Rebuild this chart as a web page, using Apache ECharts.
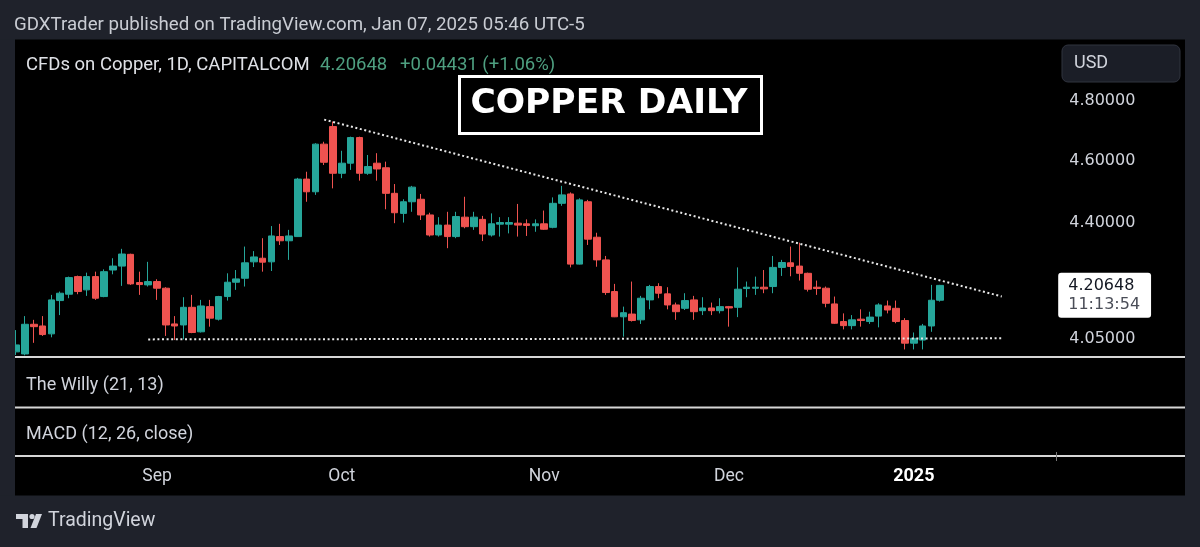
<!DOCTYPE html>
<html>
<head>
<meta charset="utf-8">
<script src="https://cdn.jsdelivr.net/npm/echarts@6/dist/echarts.min.js"></script>
<style>
html,body{margin:0;padding:0;background:#1f222b;}
#c{width:1200px;height:547px;}
</style>
</head>
<body>
<div id="c"></div>
<script>
// ---- trading days (categories) ----
const dates = [
'2024-08-09',
'2024-08-12','2024-08-13','2024-08-14','2024-08-15','2024-08-16',
'2024-08-19','2024-08-20','2024-08-21','2024-08-22','2024-08-23',
'2024-08-26','2024-08-27','2024-08-28','2024-08-29','2024-08-30',
'2024-09-02','2024-09-03','2024-09-04','2024-09-05','2024-09-06',
'2024-09-09','2024-09-10','2024-09-11','2024-09-12','2024-09-13',
'2024-09-16','2024-09-17','2024-09-18','2024-09-19','2024-09-20',
'2024-09-23','2024-09-24','2024-09-25','2024-09-26','2024-09-27',
'2024-09-30',
'2024-10-01','2024-10-02','2024-10-03','2024-10-04',
'2024-10-07','2024-10-08','2024-10-09','2024-10-10','2024-10-11',
'2024-10-14','2024-10-15','2024-10-16','2024-10-17','2024-10-18',
'2024-10-21','2024-10-22','2024-10-23','2024-10-24','2024-10-25',
'2024-10-28','2024-10-29','2024-10-30','2024-10-31',
'2024-11-01',
'2024-11-04','2024-11-05','2024-11-06','2024-11-07','2024-11-08',
'2024-11-11','2024-11-12','2024-11-13','2024-11-14','2024-11-15',
'2024-11-18','2024-11-19','2024-11-20','2024-11-21','2024-11-22',
'2024-11-25','2024-11-26','2024-11-27','2024-11-28','2024-11-29',
'2024-12-02','2024-12-03','2024-12-04','2024-12-05','2024-12-06',
'2024-12-09','2024-12-10','2024-12-11','2024-12-12','2024-12-13',
'2024-12-16','2024-12-17','2024-12-18','2024-12-19','2024-12-20',
'2024-12-23','2024-12-24','2024-12-26','2024-12-27',
'2024-12-30','2024-12-31',
'2025-01-02','2025-01-03','2025-01-06','2025-01-07'
];
// empty right margin of the chart (future sessions)
const futureDates = [
'2025-01-08','2025-01-09','2025-01-10','2025-01-13','2025-01-14','2025-01-15',
'2025-01-16','2025-01-17','2025-01-20','2025-01-21','2025-01-22','2025-01-23'
];

// ---- OHLC values (USD) ----
const opens = [
4.011,4.005,4.091,4.086,4.063,4.161,4.180,4.233,4.193,4.233,
4.173,4.253,4.265,4.301,4.215,4.208,4.218,4.198,4.092,4.089,
4.141,4.069,4.143,4.106,4.173,4.216,4.228,4.278,4.289,4.278,
4.356,4.343,4.356,4.539,4.498,4.654,4.713,4.558,4.591,4.676,
4.558,4.591,4.576,4.493,4.429,4.466,4.474,4.424,4.361,4.392,
4.356,4.417,4.387,4.410,4.361,4.395,4.395,4.398,4.396,4.390,
4.396,4.385,4.461,4.491,4.271,4.466,4.354,4.284,4.188,4.113,
4.121,4.104,4.163,4.203,4.181,4.148,4.138,4.163,4.131,4.139,
4.131,4.143,4.141,4.197,4.198,4.201,4.203,4.261,4.275,4.265,
4.243,4.201,4.198,4.151,4.099,4.087,4.106,4.099,4.115,4.145,
4.138,4.102,4.036,4.045,4.086,4.162
];
const closes = [
4.031,4.091,4.084,4.061,4.163,4.183,4.230,4.188,4.233,4.168,
4.248,4.265,4.302,4.211,4.209,4.218,4.198,4.089,4.086,4.141,
4.067,4.145,4.109,4.173,4.216,4.226,4.275,4.293,4.277,4.358,
4.343,4.358,4.539,4.498,4.654,4.594,4.558,4.591,4.676,4.558,
4.580,4.572,4.493,4.431,4.466,4.513,4.424,4.361,4.392,4.356,
4.419,4.387,4.417,4.364,4.396,4.400,4.400,4.392,4.391,4.396,
4.379,4.461,4.488,4.271,4.472,4.348,4.284,4.185,4.113,4.125,
4.102,4.168,4.203,4.183,4.148,4.128,4.161,4.128,4.139,4.131,
4.143,4.139,4.195,4.201,4.201,4.196,4.261,4.276,4.264,4.243,
4.195,4.197,4.153,4.094,4.087,4.104,4.102,4.112,4.148,4.133,
4.099,4.036,4.050,4.086,4.162,4.20648
];
const lows = [
4.002,4.001,4.037,4.057,4.053,4.118,4.168,4.180,4.175,4.163,
4.171,4.240,4.205,4.208,4.178,4.203,4.163,4.057,4.045,4.047,
4.065,4.067,4.084,4.102,4.161,4.193,4.203,4.262,4.248,4.250,
4.330,4.284,4.355,4.466,4.488,4.585,4.509,4.542,4.569,4.534,
4.553,4.534,4.442,4.398,4.400,4.434,4.408,4.356,4.356,4.320,
4.351,4.382,4.377,4.342,4.356,4.356,4.366,4.356,4.358,4.371,
4.377,4.382,4.453,4.261,4.270,4.330,4.263,4.178,4.112,4.055,
4.099,4.092,4.135,4.168,4.135,4.104,4.133,4.104,4.118,4.118,
4.123,4.084,4.112,4.171,4.178,4.183,4.183,4.235,4.234,4.221,
4.188,4.178,4.141,4.092,4.076,4.076,4.084,4.092,4.082,4.123,
4.094,4.018,4.018,4.018,4.069,4.158
];
const highs = [
4.074,4.115,4.104,4.115,4.178,4.188,4.233,4.236,4.245,4.248,
4.255,4.289,4.318,4.303,4.248,4.278,4.225,4.201,4.115,4.171,
4.178,4.163,4.163,4.175,4.243,4.253,4.325,4.311,4.351,4.389,
4.396,4.377,4.543,4.563,4.657,4.662,4.730,4.632,4.679,4.679,
4.618,4.624,4.596,4.523,4.474,4.517,4.491,4.431,4.417,4.434,
4.434,4.482,4.434,4.421,4.429,4.417,4.417,4.459,4.410,4.410,
4.438,4.480,4.517,4.496,4.477,4.472,4.368,4.296,4.211,4.143,
4.218,4.175,4.208,4.213,4.201,4.155,4.183,4.175,4.171,4.155,
4.168,4.145,4.261,4.218,4.233,4.253,4.296,4.284,4.325,4.337,
4.245,4.221,4.203,4.173,4.123,4.118,4.135,4.128,4.153,4.161,
4.161,4.109,4.067,4.092,4.208,4.208
];

// ---- axis labels / annotations ----
const priceTicks = [4.8, 4.6, 4.4, 4.05];
const lastPrice = 4.20648;
const countdown = '11:13:54';
const monthStarts = ['2024-09-02','2024-10-01','2024-11-01','2024-12-02','2025-01-02'];
const monthNames = ['Sep','Oct','Nov','Dec','2025'];
// trend lines: [date, price] endpoints
const resistance = [['2024-09-27', 4.7365], ['2025-01-16', 4.1732]];
const support = [['2024-08-30', 4.047], ['2025-01-16', 4.050]];

const UP = '#26a69a', DOWN = '#ef5350', TXT = '#d1d4dc';
const categories = dates.concat(futureDates);
const ohlc = opens.map((o, i) => [o, closes[i], lows[i], highs[i]]);

const dotted = {color: '#e8e8e8', width: 2, type: [2, 2.6], opacity: 1};
const hidden = {color: 'rgba(0,0,0,0)', width: 0, opacity: 1};
const markData = [
  [{coord: resistance[0], lineStyle: dotted}, {coord: resistance[1]}],
  [{coord: support[0], lineStyle: dotted}, {coord: support[1]}]
];
priceTicks.forEach(v => markData.push({
  yAxis: v,
  lineStyle: hidden,
  label: {show: true, position: 'end', distance: 19, opacity: 1, formatter: p => Number(p.value).toFixed(5),
          color: TXT, fontSize: 16, fontFamily: 'DejaVu Sans'}
}));
markData.push({
  yAxis: lastPrice,
  lineStyle: hidden,
  label: {show: true, position: 'end', distance: 8, offset: [0, 11], opacity: 1,
          formatter: () => '{p|' + lastPrice.toFixed(5) + '}\n{t|' + countdown + '}',
          backgroundColor: '#ffffff', borderRadius: 3, padding: [4, 11, 3, 10],
          rich: {p: {fontFamily: 'DejaVu Sans', fontSize: 16, color: '#131722', lineHeight: 19},
                 t: {fontFamily: 'DejaVu Sans', fontSize: 16, color: '#4a4d57', lineHeight: 19}}}
});

function txt(x, y, text, size, fill, align, family, weight) {
  return {type: 'text', x: x, y: y, style: {text: text, fontSize: size, fontFamily: family || 'Roboto',
          fontWeight: weight || 'normal', fill: fill,
          textAlign: align || 'left', textVerticalAlign: 'middle'}};
}

const chart = echarts.init(document.getElementById('c'), null, {renderer: 'canvas'});
chart.setOption({
  backgroundColor: '#1f222b',
  animation: false,
  textStyle: {fontFamily: 'Roboto'},
  grid: {left: 11.8, right: 149.8, top: 43.97, bottom: 191.3, containLabel: false},
  xAxis: {
    type: 'category', data: categories, boundaryGap: true,
    axisLine: {show: false}, axisTick: {show: false}, splitLine: {show: false},
    axisLabel: {
      margin: 112, color: TXT, fontSize: 17.5, fontFamily: 'Roboto',
      interval: (idx, val) => monthStarts.indexOf(val) >= 0,
      formatter: val => {
        const k = monthStarts.indexOf(val);
        if (k < 0) return '';
        return k === 4 ? '{b|' + monthNames[k] + '}' : monthNames[k];
      },
      rich: {b: {fontWeight: 'bold', color: '#ffffff', fontSize: 18, fontFamily: 'Roboto'}}
    }
  },
  yAxis: {
    type: 'log', logBase: 10, min: 4, max: 5, position: 'right',
    axisLine: {show: false}, axisTick: {show: false}, splitLine: {show: false},
    axisLabel: {show: false}
  },
  series: [{
    type: 'candlestick',
    data: ohlc,
    barWidth: 7,
    itemStyle: {color: UP, color0: DOWN, borderColor: UP, borderColor0: DOWN, borderWidth: 1},
    markLine: {silent: true, symbol: ['none', 'none'], animation: false,
               label: {show: false}, data: markData}
  }],
  graphic: [
    {type: 'rect', z: -10, shape: {x: 15, y: 39.5, width: 1170, height: 456}, style: {fill: '#000000'}},
    {type: 'rect', z: 100, shape: {x: 0, y: 39.5, width: 15, height: 456}, style: {fill: '#1f222b'}},
    // header
    txt(14, 25, 'GDXTrader published on TradingView.com, Jan 07, 2025 05:46 UTC-5', 18.7, '#c9ccd3'),
    txt(26, 65, 'CFDs on Copper, 1D, CAPITALCOM', 18.5, '#dfe1e6'),
    txt(320, 65, '4.20648', 18.5, '#4e9f80'),
    txt(400, 65, '+0.04431 (+1.06%)', 18.5, '#4e9f80'),
    // title box
    {type: 'rect', shape: {x: 459.5, y: 76.5, width: 302, height: 57}, style: {fill: 'none', stroke: '#ffffff', lineWidth: 3}},
    txt(609, 104, 'COPPER DAILY', 34.5, '#ffffff', 'center', 'DejaVu Sans', 'bold'),
    // currency box
    {type: 'rect', shape: {x: 1062, y: 45, width: 118, height: 37, r: 6}, style: {fill: '#1b1e27', stroke: '#30343f', lineWidth: 1}},
    txt(1074, 63.5, 'USD', 18, TXT),
    // pane separators
    {type: 'line', shape: {x1: 15, y1: 357, x2: 1185, y2: 357}, style: {stroke: '#d6d6d6', lineWidth: 2}},
    {type: 'line', shape: {x1: 15, y1: 407.5, x2: 1185, y2: 407.5}, style: {stroke: '#d6d6d6', lineWidth: 2}},
    {type: 'line', shape: {x1: 15, y1: 456, x2: 1185, y2: 456}, style: {stroke: '#d6d6d6', lineWidth: 2}},
    {type: 'line', shape: {x1: 1056.5, y1: 452, x2: 1056.5, y2: 461}, style: {stroke: '#777', lineWidth: 1}},
    txt(26, 385.5, 'The Willy (21, 13)', 18, TXT),
    txt(26, 434, 'MACD (12, 26, close)', 18, TXT),
    // TradingView logo
    {type: 'polygon', shape: {points: [[16, 514], [28, 514], [28, 528], [22.5, 528], [22.5, 519], [16, 519]]}, style: {fill: TXT}},
    {type: 'circle', shape: {cx: 32, cy: 516.5, r: 2.6}, style: {fill: TXT}},
    {type: 'polygon', shape: {points: [[36, 514], [42, 514], [36.5, 528], [30.5, 528]]}, style: {fill: TXT}},
    txt(48, 521, 'TradingView', 19.5, TXT)
  ]
});
</script>
</body>
</html>
